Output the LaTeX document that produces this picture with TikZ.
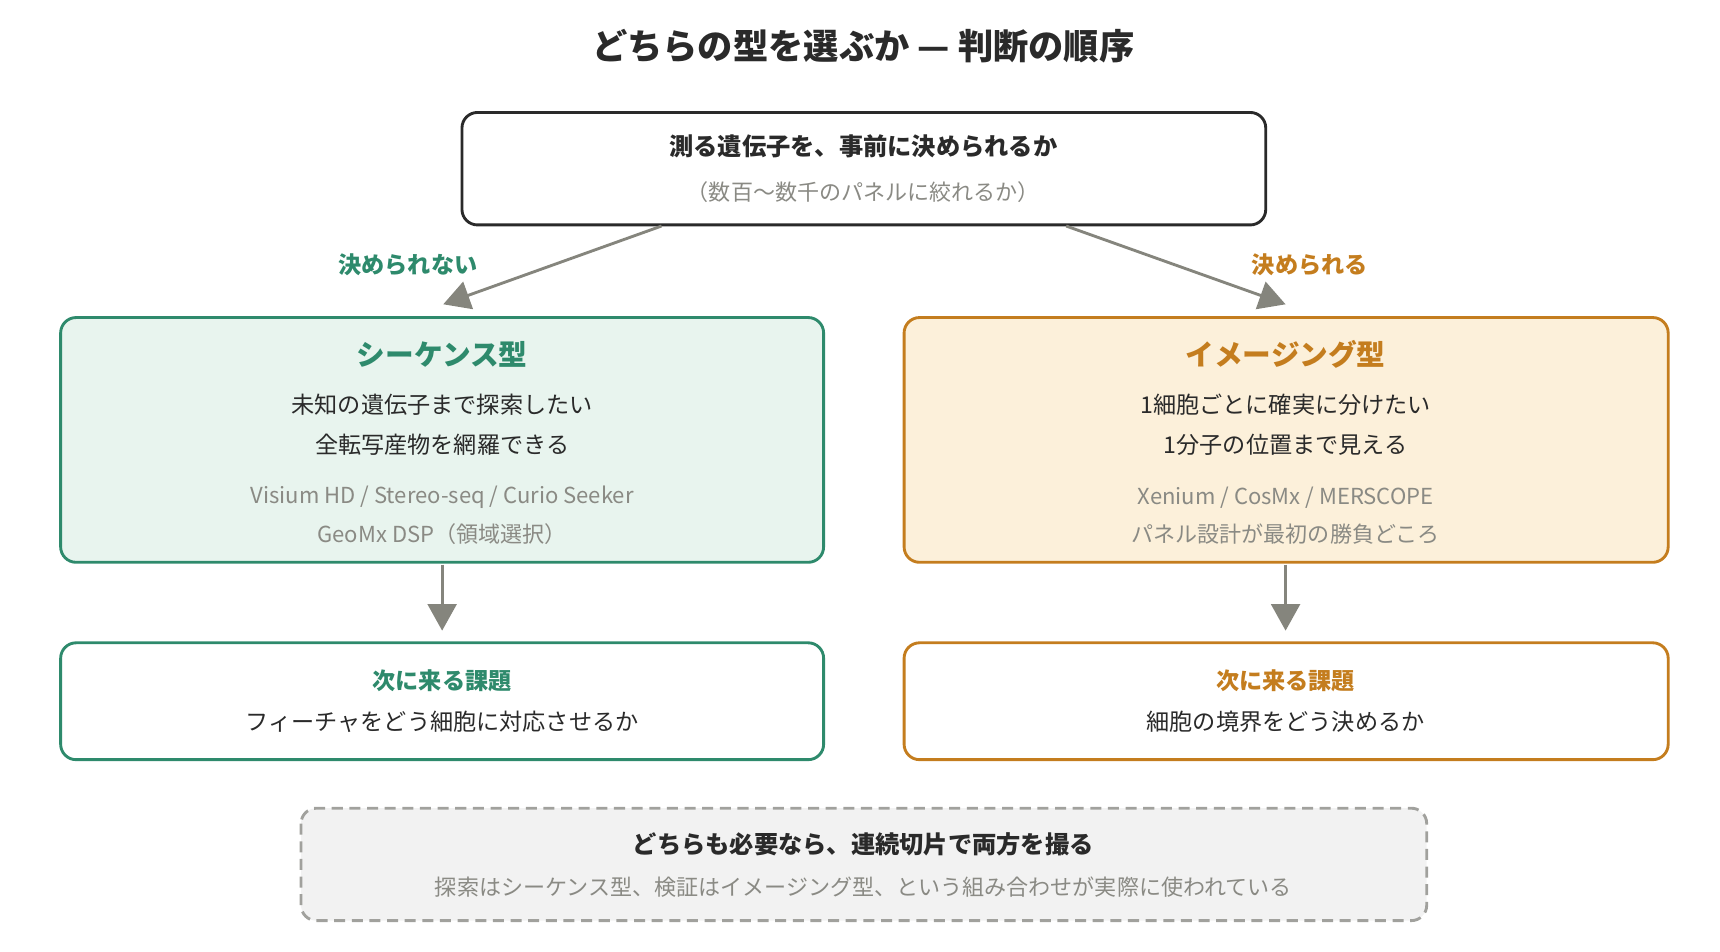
\documentclass[tikz,border=0pt]{standalone}
\usepackage{fontspec}
\setmainfont{Noto Sans CJK JP}
\newfontfamily\jpb{Noto Sans CJK JP}[BoldFont={* Bold}]
\usetikzlibrary{arrows.meta}
\definecolor{gr}{HTML}{2E8A6C}
\definecolor{grf}{HTML}{E8F4EE}
\definecolor{og}{HTML}{C47D1E}
\definecolor{ogf}{HTML}{FCF0DA}
\definecolor{tx}{HTML}{2A2A2A}
\definecolor{mu}{HTML}{8A8A84}
\definecolor{ar}{HTML}{85857D}
\begin{document}
\begin{tikzpicture}[x=0.5pt,y=-0.5pt,
 box/.style={rounded corners=7pt,line width=1.3pt},
 arr/.style={draw=ar,line width=1.3pt,-{Triangle[length=12pt,width=13pt]}},
 t/.style={inner sep=0pt,text=tx,font=\fontsize{10.5}{12}\selectfont},
 h/.style={inner sep=0pt,font=\bfseries\fontsize{11}{13}\selectfont},
 m/.style={inner sep=0pt,text=mu,font=\fontsize{10}{12}\selectfont}]
\useasboundingbox (0,0) rectangle (1560,863);
\node[inner sep=0pt,text=tx,font=\bfseries\fontsize{16}{18}\selectfont] (title) at (783,42) {どちらの型を選ぶか — 判断の順序};
% top
\draw[box,draw=tx,fill=white] (419,102) rectangle (1148,204);
\coordinate (topL) at (600,205); \coordinate (topR) at (967,205);
\node[h,text=tx] (q) at (783,133) {測る遺伝子を、事前に決められるか};
\node[m] (q2) at (783,174) {（数百〜数千のパネルに絞れるか）};
% left
\draw[box,draw=gr,fill=grf] (55,288) rectangle (747,510);
\coordinate (Ltop) at (402,276);
\node[h,text=gr,font=\bfseries\fontsize{13}{15}\selectfont] (lh) at (401,321) {シーケンス型};
\node[t] at (401,367) {未知の遺伝子まで探索したい};
\node[t] at (401,403) {全転写産物を網羅できる};
\node[m] at (401,451) {Visium HD / Stereo-seq / Curio Seeker};
\node[m] at (401,484) {GeoMx DSP（領域選択）};
% right
\draw[box,draw=og,fill=ogf] (820,288) rectangle (1513,510);
\coordinate (Rtop) at (1166,276);
\node[h,text=og,font=\bfseries\fontsize{13}{15}\selectfont] (rh) at (1166,321) {イメージング型};
\node[t] at (1166,367) {1細胞ごとに確実に分けたい};
\node[t] at (1166,403) {1分子の位置まで見える};
\node[m] at (1166,451) {Xenium / CosMx / MERSCOPE};
\node[m] at (1166,484) {パネル設計が最初の勝負どころ};
% branch arrows
\draw[arr] (topL) -- (Ltop);
\draw[arr] (topR) -- (Rtop);
\node[h,text=gr,font=\bfseries\fontsize{10.5}{12}\selectfont] at (370,240) {決められない};
\node[h,text=og,font=\bfseries\fontsize{10.5}{12}\selectfont] at (1188,240) {決められる};
% bottom boxes
\coordinate (Lb) at (401,512); \coordinate (Lc) at (401,572);
\coordinate (Rb) at (1166,512); \coordinate (Rc) at (1166,572);
\draw[arr] (Lb) -- (Lc);
\draw[arr] (Rb) -- (Rc);
\draw[box,draw=gr,fill=white] (55,583) rectangle (747,689);
\node[h,text=gr,font=\bfseries\fontsize{10.5}{12}\selectfont] at (401,617) {次に来る課題};
\node[t] at (401,655) {フィーチャをどう細胞に対応させるか};
\draw[box,draw=og,fill=white] (820,583) rectangle (1513,689);
\node[h,text=og,font=\bfseries\fontsize{10.5}{12}\selectfont] at (1166,617) {次に来る課題};
\node[t] at (1166,655) {細胞の境界をどう決めるか};
% dashed
\draw[box,draw=mu!80,fill=black!5,dash pattern=on 5pt off 3pt] (273,733) rectangle (1294,835);
\node[h,text=tx] at (783,766) {どちらも必要なら、連続切片で両方を撮る};
\node[m] at (783,805) {探索はシーケンス型、検証はイメージング型、という組み合わせが実際に使われている};
\end{tikzpicture}
\end{document}
